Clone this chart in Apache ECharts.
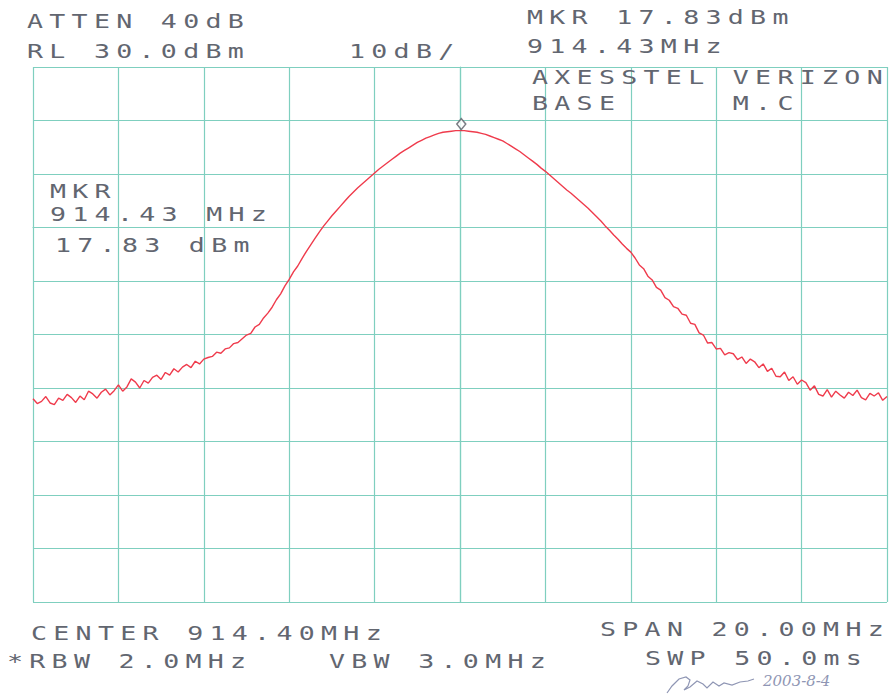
<!DOCTYPE html>
<html>
<head>
<meta charset="utf-8">
<script src="https://cdn.jsdelivr.net/npm/echarts@6/dist/echarts.min.js"></script>
<style>
  html, body { margin: 0; padding: 0; background: #ffffff; }
  #chart { width: 890px; height: 696px; }
  #chart text[style*="Mono"] { letter-spacing: 4.5px; }
</style>
</head>
<body>
<div id="chart"></div>
<script>
// ---- Data ----
const centerMHz = 914.40;
const spanMHz = 20.0;
// Frequency offset from the centre (MHz) of the first trace sample, and sample step
const traceStartOffsetMHz = -10;
const traceStepMHz = 0.1;
// Trace level in dBm, one sample every 0.1 MHz from 904.4 MHz to 924.4 MHz
const traceDbm = [
  -32.0, -32.9, -32.5, -31.6, -32.8, -33.1, -31.9, -32.3, -31.2, -31.8,
  -32.7, -31.5, -32.2, -30.6, -31.1, -31.9, -30.8, -30.2, -31.3, -30.5,
  -29.4, -30.6, -29.8, -28.3, -28.9, -30.0, -28.6, -29.1, -28.0, -27.6,
  -28.4, -27.1, -27.6, -26.4, -27.0, -26.1, -25.6, -26.2, -25.0, -25.5,
  -24.6, -24.3, -24.1, -23.3, -23.5, -22.7, -22.5, -21.7, -21.5, -20.8,
  -20.1, -19.8, -18.6, -18.1, -16.9, -16.0, -14.9, -13.5, -12.4, -10.9,
  -9.7, -8.3, -7.2, -5.8, -4.5, -3.3, -2.1, -0.9, 0.2, 1.2,
  2.2, 3.1, 4.0, 4.9, 5.8, 6.6, 7.4, 8.1, 8.8, 9.5,
  10.2, 10.9, 11.5, 12.1, 12.7, 13.3, 13.9, 14.4, 14.9, 15.4,
  15.9, 16.3, 16.7, 17.0, 17.3, 17.6, 17.8, 17.9, 18.0, 18.1,
  18.1, 18.1, 18.0, 17.9, 17.8, 17.6, 17.4, 17.1, 16.8, 16.5,
  16.2, 15.7, 15.2, 14.7, 14.2, 13.6, 13.0, 12.4, 11.8, 11.1,
  10.5, 9.8, 9.1, 8.4, 7.7, 7.0, 6.4, 5.7, 5.0, 4.3,
  3.6, 2.8, 2.0, 1.2, 0.3, -0.5, -1.4, -2.2, -3.1, -3.9,
  -4.6, -5.7, -7.0, -7.7, -9.1, -9.8, -11.2, -11.7, -13.1, -13.6,
  -14.8, -15.1, -16.2, -16.4, -17.9, -18.1, -19.7, -20.1, -21.6, -21.5,
  -22.7, -22.6, -23.8, -23.4, -23.6, -24.7, -24.2, -25.4, -24.6, -25.1,
  -26.2, -25.5, -26.9, -26.3, -27.8, -27.9, -27.0, -28.6, -27.9, -29.3,
  -28.5, -29.0, -30.4, -29.6, -31.2, -31.5, -30.3, -31.7, -30.6, -31.3,
  -31.9, -30.8, -31.4, -30.4, -31.8, -32.2, -31.0, -31.5, -30.9, -32.3,
  -31.6
];
// Marker: frequency 914.43 MHz, level 17.83 dBm
const markerMHz = 914.43;
const markerDbm = 17.83;
// Axis scale: reference level 30 dBm, 10 dB/div, 10 divisions; 2 MHz/div
const refLevelDbm = 30;
const dbPerDiv = 10;
const yDivisions = 10;
const mhzPerDiv = 2;

// Annotation texts
const headerTexts = ['ATTEN 40dB', 'RL 30.0dBm', '10dB/', 'MKR 17.83dBm', '914.43MHz', 'AXESSTEL VERIZON', 'BASE     M.C'];
const markerBoxTexts = ['MKR', '914.43 MHz', '17.83 dBm'];
const footerTexts = ['CENTER 914.40MHz', '*RBW 2.0MHz', 'VBW 3.0MHz', 'SPAN 20.00MHz', 'SWP 50.0ms'];
const signatureDate = '2003-8-4';

// ---- Build ----
const traceData = traceDbm.map((v, i) => [+(traceStartOffsetMHz + i * traceStepMHz).toFixed(2), v]);
const markerData = [[+(markerMHz - centerMHz).toFixed(2), markerDbm]];

const textColor = '#626670';
const monoFont = "19px 'DejaVu Sans Mono'";
const sx = 1.4;
function label(text, x, y) {
  return {
    type: 'text', x: x, y: y, scaleX: sx, z: 100,
    style: { text: text, font: monoFont, fill: textColor, textVerticalAlign: 'middle', textAlign: 'left' }
  };
}

// Positions of the annotation texts (left x, vertical centre y)
const headerPos = [[27, 21], [27, 51], [349, 51], [527, 17], [527, 46], [532, 77], [532, 103]];
const boxPos = [[50, 191], [50, 214], [55, 245]];
const footerPos = [[31, 633], [7, 661], [329, 661], [600, 629], [645, 658]];

const graphics = [];
headerTexts.forEach((t, i) => graphics.push(label(t, headerPos[i][0], headerPos[i][1])));
markerBoxTexts.forEach((t, i) => graphics.push(label(t, boxPos[i][0], boxPos[i][1])));
footerTexts.forEach((t, i) => graphics.push(label(t, footerPos[i][0], footerPos[i][1])));
graphics.push({
  type: 'text', x: 763, y: 681, z: 100,
  style: { text: signatureDate, font: "italic 15px 'DejaVu Serif'", fill: '#8f96b4', textVerticalAlign: 'middle' }
});
graphics.push({
  type: 'polyline', z: 100,
  shape: { points: [[667, 693], [672, 686], [679, 679], [686, 677], [690, 680], [688, 686], [684, 690], [690, 687], [697, 681], [703, 684], [707, 688], [713, 682], [719, 686], [724, 683], [732, 685], [740, 682], [748, 681], [754, 679]] },
  style: { stroke: '#8f96b4', lineWidth: 1.2, fill: null }
});

const gridColor = '#7fcfbf';
const chart = echarts.init(document.getElementById('chart'), null, { renderer: 'svg' });
chart.setOption({
  animation: false,
  backgroundColor: '#ffffff',
  grid: { left: 33, right: 3, top: 67, bottom: 94, containLabel: false },
  xAxis: {
    type: 'value',
    min: -spanMHz / 2, max: spanMHz / 2, interval: mhzPerDiv,
    axisLine: { show: true, lineStyle: { color: gridColor, width: 1.2 } },
    axisTick: { show: false }, axisLabel: { show: false },
    splitLine: { show: true, showMinLine: true, showMaxLine: true, lineStyle: { color: gridColor, width: 1.2 } }
  },
  yAxis: {
    type: 'value',
    min: refLevelDbm - dbPerDiv * yDivisions, max: refLevelDbm, interval: dbPerDiv,
    axisLine: { show: true, lineStyle: { color: gridColor, width: 1.2 } },
    axisTick: { show: false }, axisLabel: { show: false },
    splitLine: { show: true, showMinLine: true, showMaxLine: true, lineStyle: { color: gridColor, width: 1.2 } }
  },
  series: [
    {
      type: 'line', data: traceData, showSymbol: false, smooth: false,
      lineStyle: { color: '#ef3b4c', width: 1.4 }, z: 5
    },
    {
      type: 'scatter', data: markerData, symbol: 'diamond', symbolSize: [9, 11], symbolOffset: [0, -8],
      itemStyle: { color: '#ffffff', borderColor: '#5a5e66', borderWidth: 1.5 }, z: 10
    }
  ],
  graphic: graphics
});
</script>
</body>
</html>
